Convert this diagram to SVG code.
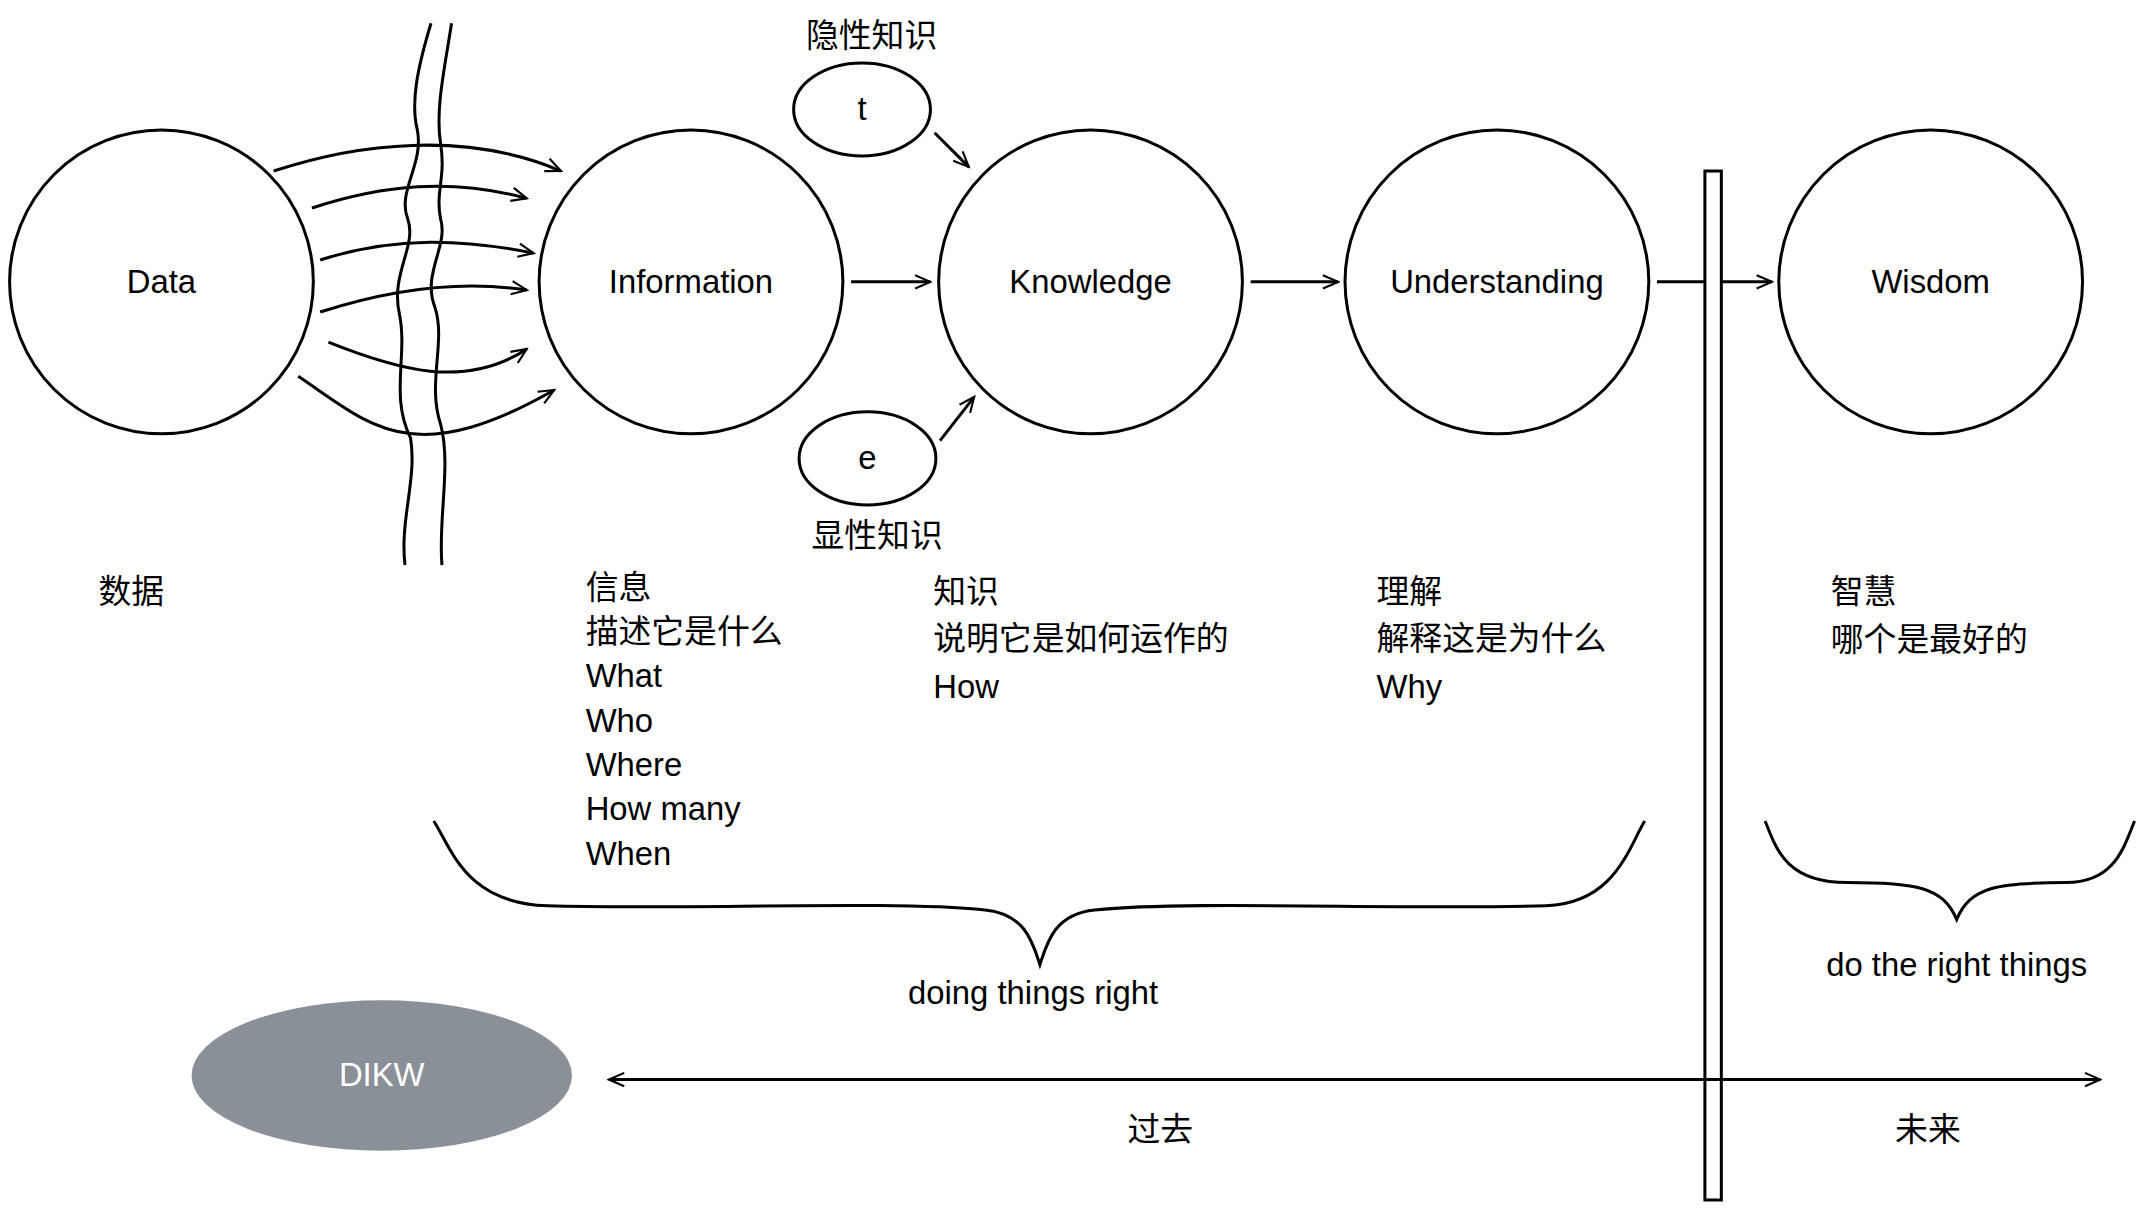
<svg xmlns="http://www.w3.org/2000/svg" width="2140" height="1208" viewBox="0 0 2140 1208">
<style>
.n{fill:#fff;stroke:#000;stroke-width:2.2}
.l{fill:none;stroke:#000;stroke-width:2.2}
text{font-family:"Liberation Sans","Noto Sans CJK SC",sans-serif;font-size:24px;fill:#000}
.c{text-anchor:middle}
</style>
<defs>
<marker id="a" viewBox="0 0 20 20" refX="18" refY="10" markerWidth="14" markerHeight="14" markerUnits="userSpaceOnUse" orient="auto-start-reverse"><path d="M2 3L18 10L2 17" fill="none" stroke="#000" stroke-width="2.2"/></marker>
</defs>
<rect width="2140" height="1208" fill="#fff"/>
<g transform="scale(1.3683)">
<g id="data"><circle class="n" cx="118" cy="206" r="111"/><text class="c" x="118" y="214">Data</text></g>
<g id="information"><circle class="n" cx="505" cy="206" r="111"/><text class="c" x="505" y="214">Information</text></g>
<g id="knowledge"><circle class="n" cx="797" cy="206" r="111"/><text class="c" x="797" y="214">Knowledge</text></g>
<g id="understanding"><circle class="n" cx="1094" cy="206" r="111"/><text class="c" x="1094" y="214">Understanding</text></g>
<g id="wisdom"><circle class="n" cx="1411" cy="206" r="111"/><text class="c" x="1411" y="214">Wisdom</text></g>
<g id="tacit"><ellipse class="n" cx="630" cy="80" rx="50" ry="34"/><text class="c" x="630" y="88">t</text><text class="c" x="637" y="34">隐性知识</text></g>
<g id="explicit"><ellipse class="n" cx="634" cy="335" rx="50" ry="34"/><text class="c" x="634" y="343">e</text><text class="c" x="641" y="400">显性知识</text></g>
<g id="bar"><rect class="n" x="1246" y="125" width="12" height="752"/></g>
<g id="dikw"><ellipse cx="279" cy="786" rx="139" ry="55" fill="#8a9097"/><text class="c" x="279" y="794" style="fill:#fff">DIKW</text></g>
<g id="river">
<path class="l" d="M315 17C305 50 300 75 305 95C310 120 290 140 298 160C305 180 285 200 292 230C298 260 285 290 300 320C305 350 292 380 296 413"/>
<path class="l" d="M330 17C325 50 318 80 322 105C326 130 318 140 322 160C328 180 308 200 318 225C326 250 312 280 322 310C330 340 320 380 323 413"/>
</g>
<g id="connectors">
<path class="l" marker-end="url(#a)" d="M200 125C260 105 340 95 410 125"/>
<path class="l" marker-end="url(#a)" d="M228 152C280 135 330 130 385 145"/>
<path class="l" marker-end="url(#a)" d="M234 190C290 172 340 175 390 185"/>
<path class="l" marker-end="url(#a)" d="M234 228C290 210 340 205 385 212"/>
<path class="l" marker-end="url(#a)" d="M240 250C290 270 340 285 385 255"/>
<path class="l" marker-end="url(#a)" d="M218 275C270 310 300 345 405 285"/>
<path class="l" marker-end="url(#a)" d="M622 206H680"/>
<path class="l" marker-end="url(#a)" d="M914 206H978"/>
<path class="l" d="M1211 206H1246"/>
<path class="l" marker-end="url(#a)" d="M1258 206H1295"/>
<path class="l" marker-end="url(#a)" d="M683 97L708 122"/>
<path class="l" marker-end="url(#a)" d="M687 322L712 290"/>
<path class="l" marker-start="url(#a)" marker-end="url(#a)" d="M445 789H1535"/>
<path class="l" d="M317 600C330 620 340 660 400 662C500 665 650 658 720 665C750 668 755 690 760 705C765 690 770 668 800 665C870 658 1020 665 1130 662C1180 660 1190 620 1202 600"/>
<path class="l" d="M1290 600C1298 620 1305 645 1350 645C1400 645 1420 648 1430 672C1440 648 1460 645 1510 645C1545 645 1552 620 1560 600"/>
</g>
<text class="c" x="755" y="734">doing things right</text>
<text class="c" x="1430" y="713">do the right things</text>
<text class="c" x="848" y="834">过去</text>
<text class="c" x="1409" y="834">未来</text>
<text x="72" y="441">数据</text>
<g>
<text x="428" y="438">信息</text><text x="428" y="470">描述它是什么</text><text x="428" y="502">What</text><text x="428" y="535">Who</text><text x="428" y="567">Where</text><text x="428" y="599">How many</text><text x="428" y="632">When</text>
</g>
<text x="682" y="441">知识</text><text x="682" y="475">说明它是如何运作的</text><text x="682" y="510">How</text>
<text x="1006" y="441">理解</text><text x="1006" y="475">解释这是为什么</text><text x="1006" y="510">Why</text>
<text x="1338" y="441">智慧</text><text x="1338" y="476">哪个是最好的</text>
</g>
</svg>
